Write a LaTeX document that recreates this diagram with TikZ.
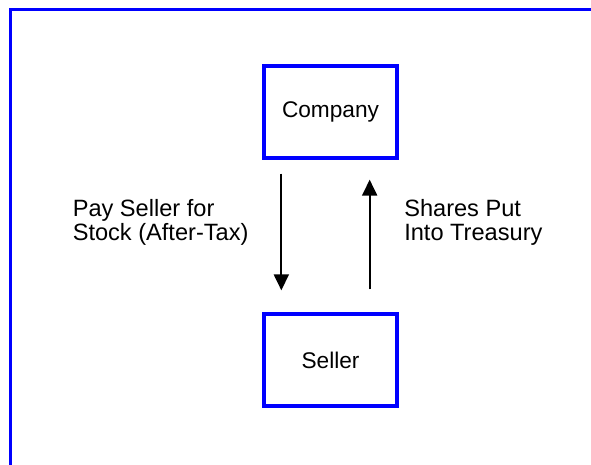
\documentclass[tikz,border=0pt]{standalone}
\usepackage{fontspec}
\setmainfont{Liberation Sans}
\usetikzlibrary{arrows.meta}
\begin{document}
\begin{tikzpicture}[x=0.75pt,y=-0.75pt,
  frame/.style={draw=blue,line width=2pt},
  party/.style={draw=blue,line width=2.5pt,minimum width=133*0.75pt,minimum height=92*0.75pt,inner sep=0pt,font=\fontsize{17}{20}\selectfont},
  label/.style={align=left,inner sep=0pt,anchor=base west,font=\fontsize{17.7}{18}\selectfont},
  flow/.style={line width=1.5pt,-{Triangle[width=11.25pt,length=12pt]}}]
  \clip (0,0) rectangle (591,464);
  \fill[white] (0,0) rectangle (591,464);
  % open frame: only its left and top edges fall on the page
  \draw[frame] (10.5,480) -- (10.5,9.5) -- (610,9.5);
  % the two parties
  \node[party] (company) at (330.5,112) {Company};
  \node[party] (seller) at (330.5,360) {Seller};
  % arrow end points, set off from the boxes
  \coordinate (payStart) at ([shift={(19,14)}]company.south west);
  \coordinate (payEnd) at ([shift={(19,-22)}]seller.north west);
  \coordinate (shareStart) at ([shift={(-29,-23)}]seller.north east);
  \coordinate (shareEnd) at ([shift={(-29,20)}]company.south east);
  \draw[flow] (payStart) -- (payEnd);
  \draw[flow] (shareStart) -- (shareEnd);
  % captions (anchored on the baseline of their last line)
  \node[label] (payText) at (72.5,240) {Pay Seller for\\Stock (After-Tax)};
  \node[label] (shareText) at (404,240) {Shares Put\\Into Treasury};
\end{tikzpicture}
\end{document}
